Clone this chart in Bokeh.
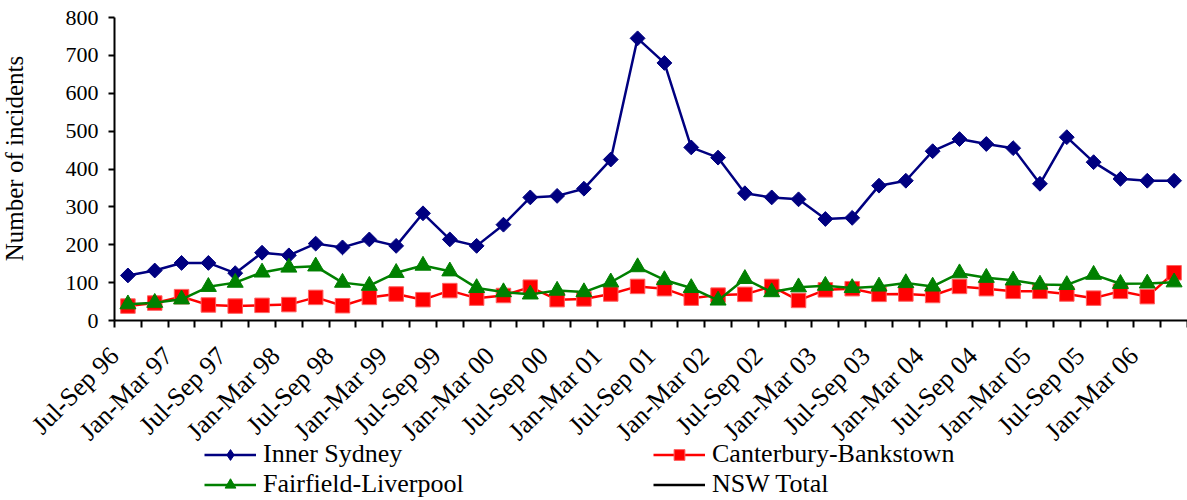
import math
from bokeh.plotting import figure
from bokeh.models import (ColumnDataSource, Range1d, FixedTicker, Legend, LegendItem, Label)
from bokeh.embed import file_html
from bokeh.resources import INLINE

quarters = [
    "Jul-Sep 96", "Oct-Dec 96", "Jan-Mar 97", "Apr-Jun 97",
    "Jul-Sep 97", "Oct-Dec 97", "Jan-Mar 98", "Apr-Jun 98",
    "Jul-Sep 98", "Oct-Dec 98", "Jan-Mar 99", "Apr-Jun 99",
    "Jul-Sep 99", "Oct-Dec 99", "Jan-Mar 00", "Apr-Jun 00",
    "Jul-Sep 00", "Oct-Dec 00", "Jan-Mar 01", "Apr-Jun 01",
    "Jul-Sep 01", "Oct-Dec 01", "Jan-Mar 02", "Apr-Jun 02",
    "Jul-Sep 02", "Oct-Dec 02", "Jan-Mar 03", "Apr-Jun 03",
    "Jul-Sep 03", "Oct-Dec 03", "Jan-Mar 04", "Apr-Jun 04",
    "Jul-Sep 04", "Oct-Dec 04", "Jan-Mar 05", "Apr-Jun 05",
    "Jul-Sep 05", "Oct-Dec 05", "Jan-Mar 06", "Apr-Jun 06",
]

inner_sydney = [119, 132, 152, 152, 125, 179, 172, 203, 193, 214,
                197, 283, 214, 197, 253, 325, 329, 348, 425, 745,
                680, 457, 430, 336, 325, 320, 268, 271, 356, 369,
                447, 479, 466, 455, 361, 484, 418, 374, 369, 369]

canterbury_bankstown = [38, 46, 63, 41, 38, 40, 42, 61, 39, 61,
                        70, 55, 79, 59, 66, 88, 55, 57, 70, 90,
                        84, 59, 67, 69, 90, 53, 81, 84, 69, 70,
                        66, 90, 84, 77, 77, 70, 59, 77, 63, 126]

fairfield_liverpool = [43, 47, 56, 89, 100, 127, 140, 143, 100, 92,
                       126, 145, 130, 86, 75, 69, 79, 75, 101, 141,
                       107, 86, 53, 110, 75, 88, 92, 86, 90, 99,
                       90, 125, 113, 106, 95, 94, 121, 97, 98, 101]

# NSW Total lies far above the 0-800 axis, so none of it is visible in the chart
nsw_total = [float("nan")] * len(quarters)

y_ticks = [0, 100, 200, 300, 400, 500, 600, 700, 800]
Y_MAX = 800
Y_TITLE = "Number of incidents"

FONT = "Liberation Serif"

n = len(quarters)
X_MAX = 2 * n
xpos = [2 * i + 1 for i in range(n)]           # category centres
boundaries = [2 * i for i in range(n + 1)]      # category boundaries
label_pos = boundaries[:-1:2]                   # rotated labels end near the start of their quarter
label_text = quarters[::2]

# ---- layout (pixels): the frame covers the whole figure, axes are pinned at 0
W, H = 1187, 500
AX_LEFT, AX_TOP, AX_BOTTOM = 114, 17, 320
px_per_x = (W - AX_LEFT) / X_MAX
px_per_y = (AX_BOTTOM - AX_TOP) / Y_MAX
x_start = -AX_LEFT / px_per_x
y_end = Y_MAX + AX_TOP / px_per_y
y_start = -(H - AX_BOTTOM) / px_per_y

p = figure(frame_width=W, frame_height=H, output_backend="svg",
           toolbar_location=None,
           x_range=Range1d(x_start, X_MAX), y_range=Range1d(y_start, y_end),
           min_border=0, min_border_left=0, min_border_right=0,
           min_border_top=0, min_border_bottom=0)
p.outline_line_color = None
p.grid.visible = False
p.background_fill_color = "white"

# y axis pinned at x = 0
p.yaxis.fixed_location = 0
p.yaxis.bounds = (0, Y_MAX)
p.yaxis.ticker = FixedTicker(ticks=y_ticks)
p.yaxis.major_label_text_font = FONT
p.yaxis.major_label_text_font_size = "22px"
p.yaxis.major_label_text_color = "black"
p.yaxis.major_label_standoff = 10
p.yaxis.major_tick_out = 6
p.yaxis.major_tick_in = 0
p.yaxis.minor_tick_out = 0
p.yaxis.minor_tick_in = 0
p.yaxis.axis_line_width = 2
p.yaxis.major_tick_line_width = 2
p.yaxis.axis_line_color = "black"
p.yaxis.major_tick_line_color = "black"

# y axis title
p.add_layout(Label(x=x_start + 14 / px_per_x, y=(AX_BOTTOM - 158) / px_per_y,
                   text=Y_TITLE, angle=math.pi / 2, text_align="center",
                   text_baseline="middle", text_font=FONT,
                   text_font_size="25px", text_color="black"))

# x axis pinned at y = 0: ticks at quarter boundaries, a label every second quarter
p.xaxis.fixed_location = 0
p.xaxis.bounds = (0, X_MAX)
p.xaxis.ticker = FixedTicker(ticks=label_pos, minor_ticks=boundaries)
p.xaxis.major_label_overrides = {pos: lab for pos, lab in zip(label_pos, label_text)}
p.xaxis.major_label_orientation = math.pi / 4
p.xaxis.major_label_text_font = FONT
p.xaxis.major_label_text_font_size = "26px"
p.xaxis.major_label_text_color = "black"
p.xaxis.major_label_standoff = 24
p.xaxis.major_tick_out = 0
p.xaxis.major_tick_in = 0
p.xaxis.minor_tick_out = 7
p.xaxis.minor_tick_in = 0
p.xaxis.minor_tick_line_width = 2
p.xaxis.minor_tick_line_color = "black"
p.xaxis.axis_line_width = 2
p.xaxis.axis_line_color = "black"

src = ColumnDataSource(dict(x=xpos, inner=inner_sydney, cb=canterbury_bankstown,
                            fl=fairfield_liverpool, nsw=nsw_total))

NAVY, RED, GREEN = "#000080", "#FF0000", "#008000"

l_in = p.line("x", "inner", source=src, line_color=NAVY, line_width=2.5)
m_in = p.scatter("x", "inner", source=src, marker="square", angle=math.pi / 4,
                 size=10.5, fill_color=NAVY, line_color=NAVY)

l_cb = p.line("x", "cb", source=src, line_color=RED, line_width=2.5)
m_cb = p.scatter("x", "cb", source=src, marker="square", size=14.5,
                 fill_color=RED, line_color="#FF6060", line_width=1)

l_fl = p.line("x", "fl", source=src, line_color=GREEN, line_width=2.5)
m_fl = p.scatter("x", "fl", source=src, marker="triangle", size=16,
                 fill_color=GREEN, line_color=GREEN)

l_nsw = p.line("x", "nsw", source=src, line_color="black", line_width=2.5)
# legend-only diamond key for Inner Sydney (NSW values are NaN, so nothing is drawn)
k_in = p.scatter("x", "nsw", source=src, marker="diamond", size=12,
                 fill_color=NAVY, line_color=NAVY)

legend = Legend(items=[
    LegendItem(label="Inner Sydney", renderers=[l_in, k_in]),
    LegendItem(label="Fairfield-Liverpool", renderers=[l_fl, m_fl]),
    LegendItem(label="Canterbury-Bankstown", renderers=[l_cb, m_cb]),
    LegendItem(label="NSW Total", renderers=[l_nsw]),
], orientation="vertical", nrows=2, location=(204, 1))
legend.label_text_font = FONT
legend.label_text_font_size = "26px"
legend.label_text_color = "black"
legend.glyph_width = 52
legend.glyph_height = 27
legend.label_height = 27
legend.label_width = 390
legend.label_standoff = 7
legend.spacing = 0
legend.padding = 0
legend.margin = 0
legend.border_line_color = None
legend.background_fill_alpha = 0
p.add_layout(legend, "center")

open("out.html", "w").write(file_html(p, INLINE))
